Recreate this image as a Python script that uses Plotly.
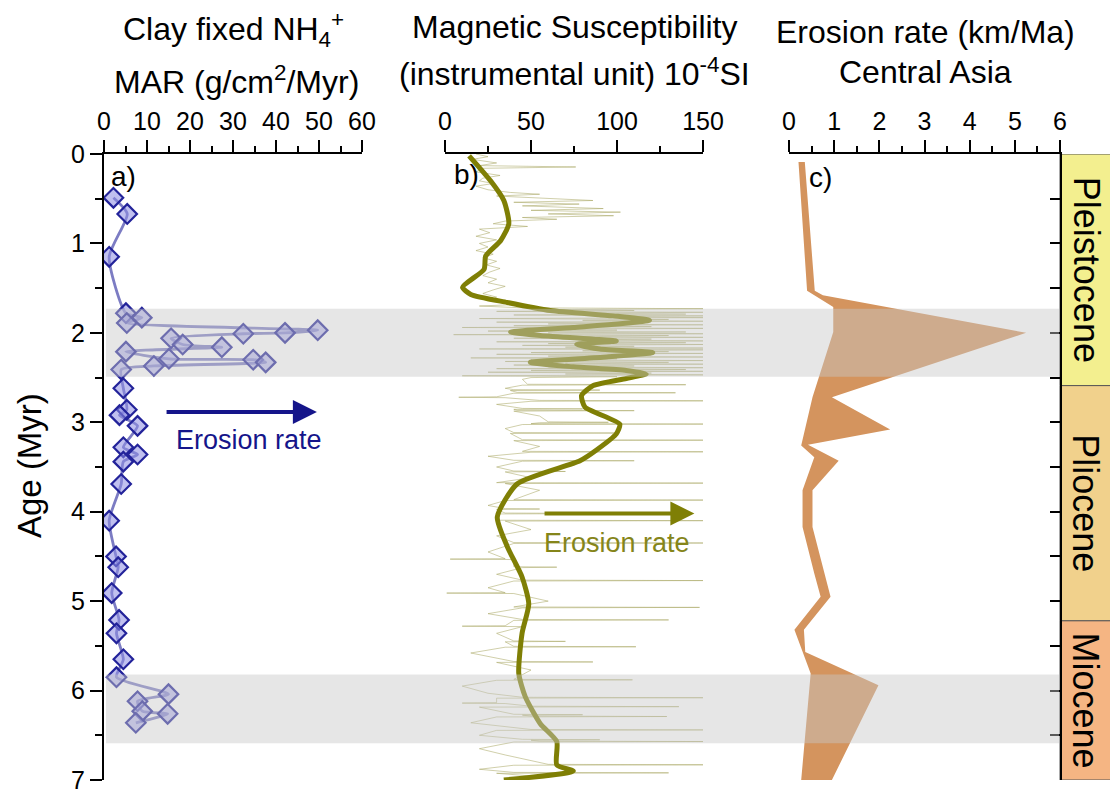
import plotly.graph_objects as go

W, H = 1110, 792

# ---------------- data ----------------
# Panel a: Clay fixed NH4+ MAR
nh4_age = [0.49, 0.67, 1.15, 1.78, 1.83, 1.89, 1.97, 2.00, 2.01, 2.06, 2.13, 2.16, 2.21,
           2.29, 2.30, 2.33, 2.37, 2.41, 2.62, 2.86, 2.92, 3.04, 3.28, 3.36, 3.44, 3.69,
           4.10, 4.50, 4.62, 4.91, 5.21, 5.36, 5.65, 5.85, 6.04, 6.12, 6.23, 6.26, 6.36]
nh4_val = [2.2, 5.4, 1.2, 5.1, 8.8, 5.3, 49.7, 42.1, 32.4, 15.6, 18.3, 27.4, 5.1,
           15.1, 34.7, 37.6, 11.6, 4.0, 4.5, 5.3, 3.6, 7.8, 4.5, 7.8, 4.5, 4.0,
           1.2, 2.8, 3.3, 1.8, 3.5, 2.9, 4.5, 2.9, 15.0, 7.8, 8.9, 14.8, 7.4]

# Panel b: magnetic susceptibility, raw record (age, value)
ms_raw_age = [
    0.00, 0.03, 0.06, 0.10, 0.13, 0.145, 0.16, 0.20, 0.24, 0.27, 0.30, 0.33, 0.36,
    0.40, 0.43, 0.45, 0.47, 0.50, 0.52, 0.54, 0.56, 0.58, 0.61, 0.63, 0.65, 0.67,
    0.69, 0.71, 0.73, 0.75, 0.78, 0.81, 0.84, 0.88, 0.92, 0.96, 1.00, 1.04, 1.08,
    1.12, 1.16, 1.20, 1.24, 1.28, 1.32, 1.36, 1.40, 1.44, 1.48, 1.52, 1.56, 1.60,
    1.64, 1.68, 1.70,
    1.72, 1.73, 1.74, 1.75, 1.76, 1.77, 1.78, 1.79, 1.80, 1.81, 1.82, 1.83, 1.84,
    1.85, 1.86, 1.87, 1.88, 1.89, 1.90, 1.91, 1.92, 1.93, 1.94, 1.95, 1.96, 1.97,
    1.98, 1.99, 2.00, 2.01, 2.02, 2.03, 2.04, 2.05, 2.06, 2.07, 2.08, 2.09, 2.10,
    2.11, 2.12, 2.13, 2.14, 2.15, 2.16, 2.17, 2.18, 2.19, 2.20, 2.21, 2.22, 2.23,
    2.24, 2.25, 2.26, 2.27, 2.28, 2.29, 2.30, 2.31, 2.32, 2.33, 2.34, 2.35, 2.36,
    2.37, 2.38, 2.39, 2.40, 2.41, 2.42, 2.43, 2.44, 2.45, 2.46, 2.47, 2.48, 2.49,
    2.50,
    2.52, 2.575, 2.58, 2.585, 2.62, 2.635, 2.64, 2.645, 2.665, 2.67, 2.675,
    2.715, 2.72, 2.725, 2.755, 2.76, 2.765, 2.80, 2.845, 2.85, 2.855, 2.865, 2.87, 2.875,
    2.93, 2.995, 3.00, 3.005, 3.015, 3.02, 3.025, 3.07, 3.115, 3.12, 3.125,
    3.195, 3.20, 3.205, 3.27, 3.325, 3.33, 3.335, 3.38, 3.425, 3.43, 3.435,
    3.50, 3.545, 3.55, 3.555, 3.62, 3.675, 3.68, 3.685, 3.76, 3.865, 3.87, 3.875,
    3.93, 3.965, 3.97, 3.975, 4.015, 4.02, 4.025, 4.095, 4.10, 4.105, 4.20, 4.27,
    4.345, 4.35, 4.355, 4.45, 4.525, 4.53, 4.535, 4.615, 4.62, 4.625, 4.70,
    4.765, 4.77, 4.775, 4.85, 4.905, 4.91, 4.915, 5.00, 5.065, 5.07, 5.075, 5.14,
    5.205, 5.21, 5.215, 5.275, 5.28, 5.285, 5.36, 5.445, 5.45, 5.455, 5.505, 5.51, 5.515,
    5.58, 5.675, 5.68, 5.685, 5.77, 5.875, 5.88, 5.885, 5.95, 6.03, 6.075, 6.08, 6.085,
    6.135, 6.14, 6.145, 6.175, 6.18, 6.185, 6.265, 6.27, 6.275, 6.285, 6.29, 6.295,
    6.36, 6.435, 6.44, 6.445, 6.50, 6.545, 6.55, 6.555, 6.565, 6.57, 6.575, 6.65, 6.72,
    6.825, 6.83, 6.835, 6.88, 6.915, 6.92, 6.925, 6.97, 7.00]
ms_raw_val = [
    18, 25, 16, 30, 20, 76, 22, 18, 32, 22, 20, 28, 18,
    25, 38, 55, 30, 60, 86, 40, 78, 45, 92, 50, 102, 60,
    98, 45, 65, 35, 28, 48, 20, 26, 18, 30, 20, 25, 18,
    28, 22, 30, 24, 32, 26, 22, 30, 25, 35, 28, 22, 30,
    26, 45, 20,
    45, 150, 60, 110, 30, 150, 70, 140, 40, 150, 90, 150, 20,
    130, 80, 150, 30, 110, 60, 150, 40, 120, 10, 150, 50, 100,
    25, 140, 60, 150, 5, 130, 70, 150, 40, 120, 80, 150, 30,
    140, 60, 150, 45, 110, 70, 150, 20, 150, 80, 130, 50, 150,
    30, 120, 60, 150, 15, 100, 50, 150, 35, 130, 70, 150, 40,
    110, 60, 150, 30, 140, 50, 150, 25, 120, 70, 150, 10, 100,
    50,
    45, 48, 140, 45, 35, 40, 90, 38, 42, 134, 40,
    30, 8, 35, 55, 150, 50, 30, 45, 80, 40, 42, 110, 40,
    55, 60, 95, 55, 50, 150, 45, 35, 40, 100, 38,
    45, 150, 40, 55, 45, 150, 50, 25, 40, 110, 45,
    30, 40, 70, 35, 50, 30, 150, 35, 55, 40, 150, 35,
    25, 35, 55, 30, 35, 110, 30, 30, 150, 35, 50, 30,
    40, 150, 40, 25, 35, 3, 40, 40, 65, 45, 30,
    45, 150, 40, 25, 35, 1, 40, 60, 40, 148, 45, 25,
    45, 130, 40, 35, 10, 45, 30, 40, 70, 35, 40, 111, 35,
    15, 40, 86, 30, 50, 40, 109, 30, 10, 25, 45, 150, 30,
    30, 10, 35, 50, 136, 20, 40, 80, 45, 50, 129, 30,
    15, 50, 150, 30, 20, 45, 90, 50, 55, 150, 40, 20, 35,
    60, 150, 40, 20, 40, 130, 30, 60, 40]

# Panel b: smoothed record
ms_smooth_age = [0.02, 0.30, 0.52, 0.78, 0.97, 1.14, 1.29, 1.49, 1.57, 1.66, 1.75, 1.81,
                 1.86, 1.94, 1.99, 2.03, 2.07, 2.09, 2.13, 2.18, 2.22, 2.27, 2.33, 2.38,
                 2.42, 2.46, 2.51, 2.59, 2.70, 2.83, 3.02, 3.13, 3.31, 3.43, 3.69, 4.06,
                 4.39, 4.73, 5.03, 5.36, 5.81, 6.07, 6.37, 6.57, 6.83, 6.90, 7.00]
ms_smooth_val = [14.0, 26.5, 34.2, 37.1, 32.3, 23.7, 22.7, 10.2, 15.0, 36.2, 61.2, 97.7,
                 118.9, 74.6, 38.1, 55.4, 86.2, 99.6, 76.6, 90.0, 120.8, 93.9, 49.6, 74.6,
                 105.4, 117.0, 105.4, 86.2, 79.4, 81.4, 101.6, 99.6, 88.1, 78.5, 41.9, 30.4,
                 36.2, 44.8, 48.7, 44.8, 42.9, 46.7, 55.4, 65.0, 65.0, 74.6, 34.2]

# Panel c: erosion rate envelope, Central Asia
er_max_age = [0.09, 1.53, 1.58, 2.00, 2.72, 3.08, 3.25, 3.43, 3.76, 4.17, 4.95, 5.32, 5.57, 5.94, 7.00]
er_max_val = [0.35, 0.57, 0.75, 5.25, 0.95, 2.24, 0.42, 1.10, 0.52, 0.52, 0.92, 0.33, 0.36, 1.98, 0.95]
er_min_age = [0.09, 1.53, 1.71, 1.99, 2.72, 3.26, 3.39, 3.76, 4.17, 4.69, 4.95, 5.32, 5.81, 7.00]
er_min_val = [0.21, 0.40, 0.98, 0.98, 0.52, 0.27, 0.56, 0.30, 0.30, 0.56, 0.70, 0.12, 0.48, 0.27]

# Epochs and highlighted intervals
epoch_names = ["Pleistocene", "Pliocene", "Miocene"]
epoch_top = [0.0, 2.59, 5.22]
epoch_bottom = [2.59, 5.22, 7.0]
epoch_colors = ["#F3EF8F", "#F1D18C", "#F5B583"]
band_top = [1.73, 5.82]
band_bottom = [2.49, 6.59]

# ---------------- layout helpers ----------------
def px(x):
    return x / W

def py(y):
    return 1 - y / H

FONT = "Liberation Sans, Arial, sans-serif"
Y_TOP, Y_BOT = 154, 780
ydom = [py(Y_BOT), py(Y_TOP)]
xa_dom = [px(104), px(362)]
xb_dom = [px(445), px(703)]
xc_dom = [px(789), px(1060)]

fig = go.Figure()

# Panel a
fig.add_trace(go.Scatter(x=nh4_val, y=nh4_age, mode="lines",
                         line=dict(color="rgba(80,80,175,0.75)", width=2.8, shape="spline", smoothing=0.6),
                         xaxis="x", yaxis="y", showlegend=False, hoverinfo="skip"))
fig.add_trace(go.Scatter(x=nh4_val, y=nh4_age, mode="markers",
                         marker=dict(symbol="diamond", size=15, color="rgba(140,140,225,0.55)",
                                     line=dict(color="#23239A", width=2.2)),
                         xaxis="x", yaxis="y", showlegend=False))

# Panel b
fig.add_trace(go.Scatter(x=ms_raw_val, y=ms_raw_age, mode="lines",
                         line=dict(color="rgba(170,168,100,0.55)", width=1),
                         xaxis="x2", yaxis="y2", showlegend=False, hoverinfo="skip"))
fig.add_trace(go.Scatter(x=ms_smooth_val, y=ms_smooth_age, mode="lines",
                         line=dict(color="#7F7F05", width=5, shape="spline", smoothing=0.6),
                         xaxis="x2", yaxis="y2", showlegend=False))

# Panel c
poly_x = er_max_val + er_min_val[::-1]
poly_y = er_max_age + er_min_age[::-1]
fig.add_trace(go.Scatter(x=poly_x, y=poly_y, mode="lines", fill="toself",
                         fillcolor="#D4945E", line=dict(width=0, color="#D4945E"),
                         xaxis="x3", yaxis="y3", showlegend=False))

tickfont = dict(family=FONT, size=25, color="black")

def xax(domain, anchor, dtick, minor_dtick, rng):
    return dict(domain=domain, anchor=anchor, side="top", range=rng, dtick=dtick,
                automargin=False, ticklabeloverflow="allow",
                showline=True, linecolor="black", linewidth=2, ticks="outside",
                ticklen=12, tickwidth=2, tickcolor="black", tickfont=tickfont,
                showgrid=False, zeroline=False, mirror=False,
                minor=dict(dtick=minor_dtick, ticks="outside", ticklen=6, tickwidth=2,
                           tickcolor="black", showgrid=False))

fig.update_layout(
    template="none",
    width=W, height=H, margin=dict(l=0, r=0, t=0, b=0, pad=0, autoexpand=False),
    paper_bgcolor="white", plot_bgcolor="rgba(0,0,0,0)",
    xaxis=xax(xa_dom, "y", 10, 5, [0, 60]),
    xaxis2=xax(xb_dom, "y2", 50, 25, [0, 150]),
    xaxis3=xax(xc_dom, "y3", 1, 0.5, [0, 6]),
    yaxis=dict(domain=ydom, anchor="x", range=[7, 0], dtick=1, showline=True, automargin=False,
               ticklabeloverflow="allow",
               linecolor="black", linewidth=2, ticks="outside", ticklen=12, tickwidth=2,
               tickcolor="black", tickfont=tickfont, showgrid=False, zeroline=False,
               minor=dict(dtick=0.5, ticks="outside", ticklen=7, tickwidth=2,
                          tickcolor="black", showgrid=False)),
    yaxis2=dict(domain=ydom, anchor="x2", range=[7, 0], visible=False, automargin=False),
    yaxis3=dict(domain=ydom, anchor="x3", side="right", range=[7, 0], dtick=0.5, automargin=False,
                showline=True, linecolor="black", linewidth=1.5, ticks="inside",
                ticklen=10, tickwidth=2, tickcolor="black", showticklabels=False,
                showgrid=False, zeroline=False),
)

shapes = []
for top, bot, col in zip(epoch_top, epoch_bottom, epoch_colors):
    shapes.append(dict(type="rect", xref="paper", yref="y3", x0=px(1060), x1=1.02,
                       y0=top, y1=bot, fillcolor=col, line=dict(color="#555555", width=1),
                       layer="below"))
for top, bot in zip(band_top, band_bottom):
    shapes.append(dict(type="rect", xref="paper", yref="y3", x0=px(106), x1=px(1059),
                       y0=top, y1=bot, fillcolor="rgba(200,200,200,0.45)",
                       line=dict(width=0), layer="above"))
fig.update_layout(shapes=shapes)

ann = []
def text(x, y, s, size, color="black", angle=0):
    ann.append(dict(xref="paper", yref="paper", x=px(x), y=py(y), text=s, showarrow=False,
                    xanchor="center", yanchor="middle", textangle=angle,
                    font=dict(family=FONT, size=size, color=color)))

text(233, 30, "Clay fixed NH<sub>4</sub><sup>+</sup>", 32)
text(236, 80, "MAR (g/cm<sup>2</sup>/Myr)", 32)
text(574, 27, "Magnetic Susceptibility", 32)
text(574, 72, "(instrumental unit) 10<sup>-4</sup>SI", 32)
text(925, 32, "Erosion rate (km/Ma)", 32)
text(925, 72, "Central Asia", 32)
text(30, 466, "Age (Myr)", 33, angle=-90)
text(123, 176, "a)", 28)
text(466, 174, "b)", 28)
text(820, 178, "c)", 28)
for name, top, bot in zip(epoch_names, epoch_top, epoch_bottom):
    ymid = (top + bot) / 2
    ann.append(dict(xref="paper", yref="y3", x=px(1086), y=ymid, text=name, showarrow=False,
                    xanchor="center", yanchor="middle", textangle=90,
                    font=dict(family=FONT, size=36, color="black")))

ann.append(dict(xref="x", yref="y", axref="x", ayref="y", x=49.5, y=2.885, ax=14.2, ay=2.885,
                showarrow=True, arrowhead=2, arrowsize=1.2, arrowwidth=4, arrowcolor="#15158A",
                text=""))
ann.append(dict(xref="x", yref="y", x=33.7, y=3.20, text="Erosion rate", showarrow=False,
                font=dict(family=FONT, size=27, color="#15158A")))
ann.append(dict(xref="x2", yref="y2", axref="x2", ayref="y2", x=145, y=4.02, ax=57, ay=4.02,
                showarrow=True, arrowhead=2, arrowsize=1.2, arrowwidth=4, arrowcolor="#7F7F05",
                text=""))
ann.append(dict(xref="x2", yref="y2", x=100, y=4.35, text="Erosion rate", showarrow=False,
                font=dict(family=FONT, size=27, color="#85851A")))
fig.update_layout(annotations=ann)

fig.write_html("out.html")
